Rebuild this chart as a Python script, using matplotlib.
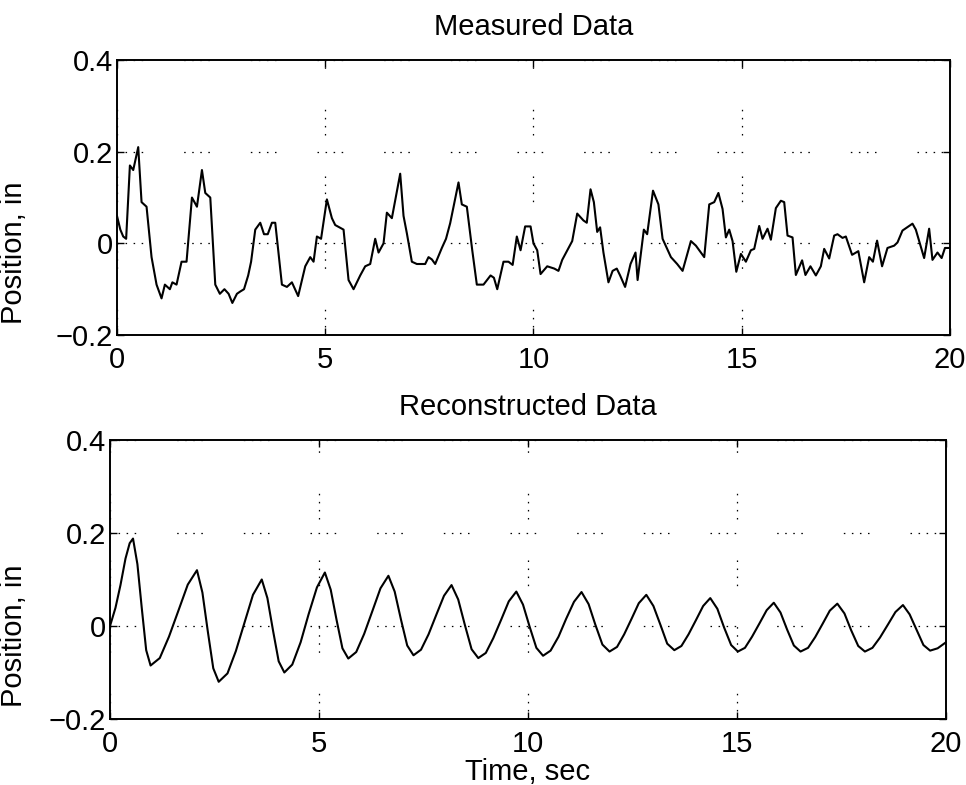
"""
Measured vs reconstructed position trace, MATLAB-style two-panel plot.
"""
import matplotlib
matplotlib.use("Agg")
import matplotlib.pyplot as plt

meas_t = [0.0, 0.08, 0.15, 0.22, 0.31, 0.39, 0.51, 0.59, 0.71, 0.83, 0.95,
          1.07, 1.15, 1.27, 1.33, 1.43, 1.55, 1.67, 1.8, 1.92, 2.04, 2.12,
          2.24, 2.36, 2.47, 2.58, 2.68, 2.77, 2.88, 2.96, 3.05, 3.15, 3.22,
          3.32, 3.44, 3.53, 3.62, 3.72, 3.8, 3.96, 4.08, 4.2, 4.35, 4.52,
          4.64, 4.72, 4.8, 4.9, 5.04, 5.16, 5.24, 5.44, 5.56, 5.68, 5.84,
          5.96, 6.08, 6.2, 6.28, 6.4, 6.48, 6.6, 6.8, 6.88, 6.96, 7.08,
          7.2, 7.4, 7.48, 7.56, 7.64, 7.8, 7.9, 8.0, 8.2, 8.28, 8.4, 8.53,
          8.64, 8.8, 8.97, 9.05, 9.13, 9.28, 9.4, 9.5, 9.6, 9.69, 9.8,
          9.93, 10.0, 10.09, 10.17, 10.33, 10.5, 10.6, 10.69, 10.93, 11.05,
          11.2, 11.28, 11.37, 11.45, 11.53, 11.6, 11.68, 11.8, 11.9, 12.0,
          12.08, 12.2, 12.33, 12.45, 12.5, 12.65, 12.73, 12.87, 13.0, 13.1,
          13.2, 13.3, 13.45, 13.58, 13.78, 13.9, 14.1, 14.22, 14.34, 14.44,
          14.54, 14.62, 14.7, 14.78, 14.87, 14.98, 15.1, 15.22, 15.3, 15.42,
          15.5, 15.62, 15.7, 15.82, 15.94, 16.02, 16.1, 16.22, 16.3, 16.45,
          16.53, 16.65, 16.78, 16.9, 16.98, 17.1, 17.22, 17.3, 17.42, 17.5,
          17.65, 17.8, 17.94, 18.06, 18.15, 18.25, 18.37, 18.5, 18.66,
          18.74, 18.86, 19.1, 19.18, 19.38, 19.5, 19.58, 19.7, 19.8, 19.88,
          20.0]
meas_v = [0.06, 0.03, 0.015, 0.01, 0.17, 0.16, 0.21, 0.09, 0.08, -0.03,
          -0.09, -0.12, -0.09, -0.10, -0.085, -0.09, -0.04, -0.04, 0.10,
          0.08, 0.16, 0.11, 0.10, -0.09, -0.11, -0.10, -0.11, -0.13, -0.11,
          -0.105, -0.10, -0.07, -0.04, 0.03, 0.045, 0.02, 0.02, 0.045, 0.045,
          -0.09, -0.095, -0.085, -0.115, -0.05, -0.03, -0.04, 0.015, 0.01,
          0.096, 0.055, 0.04, 0.03, -0.08, -0.10, -0.07, -0.05, -0.045, 0.01,
          -0.02, 0.0, 0.067, 0.055, 0.152, 0.06, 0.022, -0.04, -0.045,
          -0.045, -0.03, -0.035, -0.045, -0.01, 0.01, 0.044, 0.133, 0.085,
          0.08, -0.015, -0.09, -0.09, -0.07, -0.075, -0.10, -0.04, -0.04,
          -0.047, 0.015, -0.015, 0.037, 0.037, 0.0, -0.015, -0.067, -0.05,
          -0.055, -0.06, -0.036, 0.005, 0.065, 0.05, 0.045, 0.118, 0.09,
          0.025, 0.035, -0.02, -0.085, -0.06, -0.055, -0.07, -0.095, -0.045,
          -0.02, -0.08, 0.03, 0.02, 0.115, 0.085, 0.01, -0.01, -0.03, -0.045,
          -0.06, 0.005, -0.005, -0.03, 0.085, 0.09, 0.11, 0.075, 0.013, 0.03,
          0.005, -0.062, -0.023, -0.04, -0.015, -0.012, 0.038, 0.01, 0.032,
          0.008, 0.077, 0.093, 0.09, 0.017, 0.013, -0.069, -0.037, -0.069,
          -0.05, -0.07, -0.05, -0.012, -0.033, 0.017, 0.02, 0.012, 0.015,
          -0.025, -0.017, -0.085, -0.03, -0.04, 0.006, -0.05, -0.01, -0.005,
          0.002, 0.028, 0.043, 0.03, -0.032, 0.032, -0.036, -0.02, -0.032,
          -0.01, -0.01]

# ---- reconstructed data ----
rec_t = [0.0, 0.13, 0.25, 0.37, 0.47, 0.55, 0.655, 0.76, 0.865, 0.97,
         1.19, 1.41, 1.64, 1.86, 2.08, 2.21, 2.34, 2.47, 2.6, 2.81, 3.01,
         3.22, 3.42, 3.63, 3.765, 3.9, 4.035, 4.17, 4.36, 4.56, 4.75, 4.95,
         5.14, 5.28, 5.42, 5.56, 5.7, 5.89, 6.08, 6.28, 6.47, 6.66, 6.81,
         6.96, 7.11, 7.26, 7.44, 7.62, 7.81, 7.99, 8.17, 8.33, 8.49, 8.65,
         8.81, 8.99, 9.17, 9.36, 9.54, 9.72, 9.88, 10.04, 10.2, 10.36,
         10.54, 10.73, 10.91, 11.1, 11.28, 11.45, 11.61, 11.78, 11.95,
         12.13, 12.3, 12.48, 12.65, 12.83, 13.0, 13.17, 13.33, 13.5, 13.67,
         13.84, 14.02, 14.19, 14.36, 14.53, 14.69, 14.86, 15.02, 15.19,
         15.36, 15.54, 15.71, 15.88, 16.04, 16.2, 16.36, 16.52, 16.7, 16.87,
         17.05, 17.22, 17.4, 17.57, 17.73, 17.9, 18.06, 18.24, 18.42, 18.61,
         18.79, 18.97, 19.13, 19.3, 19.46, 19.62, 19.8, 20.0]
rec_v = [0.0, 0.039, 0.088, 0.145, 0.178, 0.188, 0.133, 0.038, -0.052,
         -0.085, -0.069, -0.023, 0.034, 0.089, 0.12, 0.072, -0.012, -0.091,
         -0.12, -0.102, -0.054, 0.008, 0.067, 0.10, 0.06, -0.01, -0.076,
         -0.10, -0.083, -0.035, 0.025, 0.083, 0.115, 0.078, 0.013, -0.048,
         -0.07, -0.056, -0.017, 0.033, 0.081, 0.108, 0.074, 0.014, -0.042,
         -0.063, -0.051, -0.018, 0.025, 0.065, 0.088, 0.057, 0.002, -0.05,
         -0.069, -0.058, -0.026, 0.014, 0.053, 0.074, 0.046, -0.002, -0.047,
         -0.064, -0.053, -0.023, 0.015, 0.052, 0.073, 0.047, 0.003, -0.04,
         -0.055, -0.045, -0.018, 0.016, 0.049, 0.067, 0.043, 0.002, -0.038,
         -0.052, -0.043, -0.018, 0.013, 0.043, 0.06, 0.037, -0.003, -0.041,
         -0.055, -0.047, -0.023, 0.006, 0.034, 0.05, 0.029, -0.008, -0.042,
         -0.055, -0.047, -0.024, 0.005, 0.033, 0.048, 0.027, -0.009, -0.043,
         -0.055, -0.047, -0.025, 0.003, 0.03, 0.045, 0.025, -0.009, -0.041,
         -0.053, -0.048, -0.035]

xticks = [0, 5, 10, 15, 20]
yticks = [-0.2, 0.0, 0.2, 0.4]
ylabels = ["\u22120.2", "0", "0.2", "0.4"]

plt.rcParams["font.family"] = ["Liberation Sans", "DejaVu Sans"]
plt.rcParams["lines.scale_dashes"] = False

GRID_DASH = (0, (1.1, 4.7, 1.1, 4.7, 1.1, 4.7, 1.1, 29.5))
FS = 21


def _style(ax, title, label_x):
    ax.set_xlim(0, 20)
    ax.set_ylim(-0.2, 0.4)
    ax.set_xticks(xticks)
    ax.set_yticks(yticks, labels=ylabels)
    ax.tick_params(direction="in", length=5, width=1.0, top=True,
                   right=True, labelsize=FS)
    ax.tick_params(axis="x", pad=8)
    ax.tick_params(axis="y", pad=3)
    ax.grid(True, color="black", lw=0.9, linestyle=GRID_DASH)
    for spine in ax.spines.values():
        spine.set_linewidth(1.4)
    ax.set_title(title, fontsize=FS, pad=18)
    ax.set_ylabel("Position, in", fontsize=FS)
    ax.yaxis.set_label_coords(label_x, 0.30)


fig = plt.figure(figsize=(9.66, 7.85), dpi=100)

ax0 = fig.add_axes([0.1211, 0.5732, 0.8623, 0.3503])
ax0.plot(meas_t, meas_v, color="black", lw=1.5)
_style(ax0, "Measured Data", -0.107)

ax1 = fig.add_axes([0.1139, 0.0841, 0.8654, 0.3554])
ax1.plot(rec_t, rec_v, color="black", lw=1.5)
_style(ax1, "Reconstructed Data", -0.098)
ax1.set_xlabel("Time, sec", fontsize=FS, labelpad=0)

fig.savefig("out.png", dpi=100, facecolor="white")
